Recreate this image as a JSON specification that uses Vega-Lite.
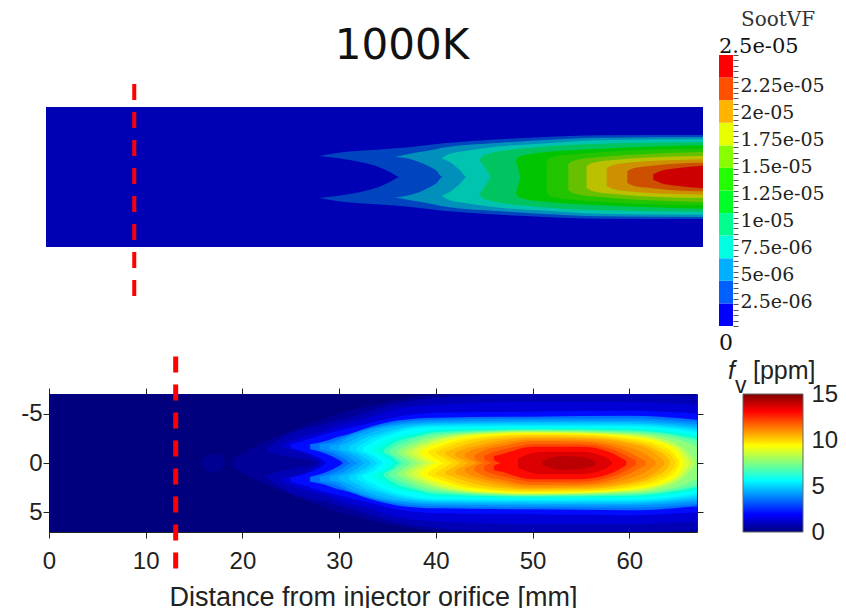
{
"$schema":"https://vega.github.io/schema/vega-lite/v6.json",
"padding":{"left":20,"top":10,"right":0,"bottom":0},
"background":"white",
"bounds":"flush",
"align":"none",
"columns":2,
"spacing":{"row":68,"column":16},
"resolve":{"scale":{"color":"independent"}},
"config":{"view":{"stroke":null},"axis":{"grid":false}},
"datasets":{
"top":[
{"l":0,"x":0,"a":7,"b":0},{"l":0,"x":67,"a":7,"b":0},
{"l":1,"x":27.84,"a":2.1,"b":2.1},{"l":1,"x":29.64,"a":2.4,"b":1.9},{"l":1,"x":31.68,"a":2.6,"b":1.57},{"l":1,"x":33.72,"a":2.73,"b":1.07},{"l":1,"x":35.08,"a":2.83,"b":0.5},{"l":1,"x":36.1,"a":2.9,"b":0},{"l":1,"x":40.52,"a":3.37,"b":0},{"l":1,"x":46.29,"a":3.77,"b":0},{"l":1,"x":50.37,"a":3.97,"b":0},{"l":1,"x":56.49,"a":4.17,"b":0},{"l":1,"x":67,"a":4.2,"b":0},
{"l":2,"x":35.59,"a":2.03,"b":2.03},{"l":2,"x":37.12,"a":2.33,"b":1.8},{"l":2,"x":38.82,"a":2.6,"b":1.17},{"l":2,"x":39.84,"a":2.8,"b":0.6},{"l":2,"x":40.45,"a":2.93,"b":0},{"l":2,"x":46.29,"a":3.43,"b":0},{"l":2,"x":50.37,"a":3.67,"b":0},{"l":2,"x":56.49,"a":3.93,"b":0},{"l":2,"x":67,"a":4,"b":0},
{"l":3,"x":40.35,"a":1.87,"b":1.87},{"l":3,"x":41.03,"a":2.27,"b":1.57},{"l":3,"x":42.22,"a":2.53,"b":0.67},{"l":3,"x":42.9,"a":2.63,"b":0},{"l":3,"x":46.29,"a":3.07,"b":0},{"l":3,"x":50.37,"a":3.33,"b":0},{"l":3,"x":56.49,"a":3.67,"b":0},{"l":3,"x":67,"a":3.77,"b":0},
{"l":4,"x":44.15,"a":1.7,"b":1.7},{"l":4,"x":44.59,"a":2.13,"b":1.2},{"l":4,"x":45.1,"a":2.33,"b":0.4},{"l":4,"x":45.38,"a":2.4,"b":0},{"l":4,"x":50.37,"a":3,"b":0},{"l":4,"x":56.49,"a":3.33,"b":0},{"l":4,"x":67,"a":3.47,"b":0},
{"l":5,"x":47.93,"a":1.6,"b":1.6},{"l":5,"x":48.16,"a":2,"b":0.83},{"l":5,"x":48.44,"a":2.1,"b":0},{"l":5,"x":50.37,"a":2.43,"b":0},{"l":5,"x":56.49,"a":2.83,"b":0},{"l":5,"x":67,"a":3.17,"b":0},
{"l":6,"x":51.05,"a":1.5,"b":0},{"l":6,"x":51.56,"a":2,"b":0},{"l":6,"x":56.49,"a":2.47,"b":0},{"l":6,"x":61.59,"a":2.73,"b":0},{"l":6,"x":67,"a":2.83,"b":0},
{"l":7,"x":53.26,"a":1.33,"b":0},{"l":7,"x":54.11,"a":1.73,"b":0},{"l":7,"x":56.49,"a":2,"b":0},{"l":7,"x":61.59,"a":2.33,"b":0},{"l":7,"x":67,"a":2.5,"b":0},
{"l":8,"x":55.13,"a":1.1,"b":0},{"l":8,"x":55.81,"a":1.43,"b":0},{"l":8,"x":58.19,"a":1.73,"b":0},{"l":8,"x":62.61,"a":2,"b":0},{"l":8,"x":67,"a":2.1,"b":0},
{"l":9,"x":57.17,"a":0.9,"b":0},{"l":9,"x":57.85,"a":1.2,"b":0},{"l":9,"x":59.89,"a":1.47,"b":0},{"l":9,"x":63.29,"a":1.67,"b":0},{"l":9,"x":67,"a":1.77,"b":0},
{"l":10,"x":59.28,"a":0.6,"b":0},{"l":10,"x":59.89,"a":0.87,"b":0},{"l":10,"x":61.59,"a":1.1,"b":0},{"l":10,"x":63.97,"a":1.33,"b":0},{"l":10,"x":67,"a":1.43,"b":0},
{"l":11,"x":61.93,"a":0.27,"b":0},{"l":11,"x":62.61,"a":0.57,"b":0},{"l":11,"x":64.31,"a":0.87,"b":0},{"l":11,"x":67,"a":1.13,"b":0}
],
"topbar":[
{"l":0,"lo":0,"hi":2.083e-6},{"l":1,"lo":2.083e-6,"hi":4.167e-6},{"l":2,"lo":4.167e-6,"hi":6.25e-6},{"l":3,"lo":6.25e-6,"hi":8.333e-6},{"l":4,"lo":8.333e-6,"hi":1.0417e-5},{"l":5,"lo":1.0417e-5,"hi":1.25e-5},{"l":6,"lo":1.25e-5,"hi":1.4583e-5},{"l":7,"lo":1.4583e-5,"hi":1.6667e-5},{"l":8,"lo":1.6667e-5,"hi":1.875e-5},{"l":9,"lo":1.875e-5,"hi":2.0833e-5},{"l":10,"lo":2.0833e-5,"hi":2.2917e-5},{"l":11,"lo":2.2917e-5,"hi":2.5e-5}
],
"bot":[
{"l":0,"x":0,"a":7,"b":0},{"l":0,"x":67,"a":7,"b":0},
{"l":0.3,"x":15.7,"a":0.1,"b":0},{"l":0.3,"x":16.5,"a":0.9,"b":0},{"l":0.3,"x":17.5,"a":0.9,"b":0},{"l":0.3,"x":18.3,"a":0.1,"b":0},
{"l":0.4,"x":19,"a":0.5,"b":0},{"l":0.4,"x":22,"a":2,"b":0},{"l":0.4,"x":26,"a":3.6,"b":0},{"l":0.4,"x":30,"a":5,"b":0},{"l":0.4,"x":35,"a":6.2,"b":0},{"l":0.4,"x":40,"a":6.9,"b":0},{"l":0.4,"x":43,"a":7,"b":0},{"l":0.4,"x":67,"a":7,"b":0},
{"l":0.8,"x":22.5,"a":1.5,"b":1.2},{"l":0.8,"x":25,"a":3,"b":0.6},{"l":0.8,"x":27,"a":3.6,"b":0.3},{"l":0.8,"x":28,"a":3.8,"b":0},{"l":0.8,"x":30,"a":4.3,"b":0},{"l":0.8,"x":35,"a":5.8,"b":0},{"l":0.8,"x":40,"a":6.6,"b":0},{"l":0.8,"x":45,"a":6.9,"b":0},{"l":0.8,"x":50,"a":7,"b":0},{"l":0.8,"x":60,"a":7,"b":0},{"l":0.8,"x":67,"a":6.8,"b":0},
{"l":1.3,"x":24,"a":1.8,"b":1.6},{"l":1.3,"x":26,"a":2.6,"b":1.1},{"l":1.3,"x":27.5,"a":3,"b":0.5},{"l":1.3,"x":28.3,"a":3.2,"b":0},{"l":1.3,"x":30,"a":3.8,"b":0},{"l":1.3,"x":33,"a":4.6,"b":0},{"l":1.3,"x":36,"a":5.5,"b":0},{"l":1.3,"x":40,"a":5.9,"b":0},{"l":1.3,"x":50,"a":6.2,"b":0},{"l":1.3,"x":60,"a":6.2,"b":0},{"l":1.3,"x":67,"a":5.9,"b":0},
{"l":1.9,"x":25,"a":1.9,"b":1.5},{"l":1.9,"x":26.5,"a":2.3,"b":1.1},{"l":1.9,"x":28,"a":2.8,"b":0.5},{"l":1.9,"x":28.8,"a":3,"b":0},{"l":1.9,"x":30,"a":3.3,"b":0},{"l":1.9,"x":33,"a":4,"b":0},{"l":1.9,"x":36,"a":4.7,"b":0},{"l":1.9,"x":40,"a":5.1,"b":0},{"l":1.9,"x":50,"a":5.2,"b":0},{"l":1.9,"x":60,"a":5.3,"b":0},{"l":1.9,"x":67,"a":5,"b":0},
{"l":2.8,"x":27,"a":1.9,"b":1.4},{"l":2.8,"x":28.5,"a":2.2,"b":1},{"l":2.8,"x":30,"a":2.7,"b":0.3},{"l":2.8,"x":30.5,"a":2.8,"b":0},{"l":2.8,"x":33,"a":3.6,"b":0},{"l":2.8,"x":36,"a":4.3,"b":0},{"l":2.8,"x":40,"a":4.6,"b":0},{"l":2.8,"x":50,"a":4.7,"b":0},{"l":2.8,"x":60,"a":4.8,"b":0},{"l":2.8,"x":67,"a":4.4,"b":0},
{"l":3.3,"x":28,"a":1.9,"b":1.4},{"l":3.3,"x":29.3,"a":2.1,"b":1.05},{"l":3.3,"x":30.5,"a":2.6,"b":0.45},{"l":3.3,"x":31.2,"a":2.9,"b":0},{"l":3.3,"x":33.5,"a":3.6,"b":0},{"l":3.3,"x":36,"a":4.1,"b":0},{"l":3.3,"x":40,"a":4.4,"b":0},{"l":3.3,"x":50,"a":4.5,"b":0},{"l":3.3,"x":60,"a":4.55,"b":0},{"l":3.3,"x":67,"a":4.15,"b":0},
{"l":3.75,"x":29,"a":1.8,"b":1.4},{"l":3.75,"x":30,"a":2,"b":1.1},{"l":3.75,"x":31,"a":2.6,"b":0.6},{"l":3.75,"x":32,"a":3,"b":0},{"l":3.75,"x":34,"a":3.6,"b":0},{"l":3.75,"x":36,"a":3.9,"b":0},{"l":3.75,"x":40,"a":4.2,"b":0},{"l":3.75,"x":50,"a":4.3,"b":0},{"l":3.75,"x":60,"a":4.3,"b":0},{"l":3.75,"x":67,"a":3.9,"b":0},
{"l":4.2,"x":30,"a":1.75,"b":1.35},{"l":4.2,"x":31,"a":2.1,"b":1},{"l":4.2,"x":32,"a":2.65,"b":0.45},{"l":4.2,"x":32.7,"a":2.9,"b":0},{"l":4.2,"x":35,"a":3.6,"b":0},{"l":4.2,"x":40,"a":4.05,"b":0},{"l":4.2,"x":50,"a":4.15,"b":0},{"l":4.2,"x":60,"a":4.15,"b":0},{"l":4.2,"x":67,"a":3.7,"b":0},
{"l":4.7,"x":31,"a":1.7,"b":1.3},{"l":4.7,"x":32,"a":2.2,"b":0.9},{"l":4.7,"x":33,"a":2.7,"b":0.3},{"l":4.7,"x":33.4,"a":2.8,"b":0},{"l":4.7,"x":36,"a":3.5,"b":0},{"l":4.7,"x":40,"a":3.9,"b":0},{"l":4.7,"x":50,"a":4,"b":0},{"l":4.7,"x":60,"a":4,"b":0},{"l":4.7,"x":67,"a":3.5,"b":0},
{"l":5.15,"x":31.8,"a":1.65,"b":1.25},{"l":5.15,"x":32.8,"a":2.15,"b":0.85},{"l":5.15,"x":33.7,"a":2.6,"b":0.25},{"l":5.15,"x":34,"a":2.7,"b":0},{"l":5.15,"x":36,"a":3.3,"b":0},{"l":5.15,"x":40,"a":3.8,"b":0},{"l":5.15,"x":50,"a":3.85,"b":0},{"l":5.15,"x":60,"a":3.85,"b":0},{"l":5.15,"x":65,"a":3.55,"b":0},{"l":5.15,"x":67,"a":3.3,"b":0},
{"l":5.6,"x":32.5,"a":1.6,"b":1.2},{"l":5.6,"x":33.5,"a":2.1,"b":0.8},{"l":5.6,"x":34.3,"a":2.5,"b":0.2},{"l":5.6,"x":34.6,"a":2.6,"b":0},{"l":5.6,"x":36,"a":3.1,"b":0},{"l":5.6,"x":40,"a":3.65,"b":0},{"l":5.6,"x":50,"a":3.7,"b":0},{"l":5.6,"x":60,"a":3.7,"b":0},{"l":5.6,"x":65,"a":3.4,"b":0},{"l":5.6,"x":67,"a":3.1,"b":0},
{"l":6.1,"x":33.2,"a":1.5,"b":1.15},{"l":6.1,"x":34.2,"a":2.05,"b":0.7},{"l":6.1,"x":35.2,"a":2.5,"b":0},{"l":6.1,"x":38,"a":3.1,"b":0},{"l":6.1,"x":40,"a":3.45,"b":0},{"l":6.1,"x":50,"a":3.6,"b":0},{"l":6.1,"x":60,"a":3.57,"b":0},{"l":6.1,"x":65,"a":3.2,"b":0},{"l":6.1,"x":67,"a":2.9,"b":0},
{"l":6.6,"x":34,"a":1.4,"b":1.1},{"l":6.6,"x":35,"a":2,"b":0.6},{"l":6.6,"x":35.8,"a":2.4,"b":0},{"l":6.6,"x":38,"a":2.95,"b":0},{"l":6.6,"x":40,"a":3.3,"b":0},{"l":6.6,"x":50,"a":3.5,"b":0},{"l":6.6,"x":60,"a":3.45,"b":0},{"l":6.6,"x":65,"a":3,"b":0},{"l":6.6,"x":67,"a":2.7,"b":0},
{"l":7.05,"x":34.6,"a":1.35,"b":1.05},{"l":7.05,"x":35.5,"a":1.95,"b":0.55},{"l":7.05,"x":36.3,"a":2.3,"b":0},{"l":7.05,"x":38,"a":2.75,"b":0},{"l":7.05,"x":40,"a":3.15,"b":0},{"l":7.05,"x":50,"a":3.42,"b":0},{"l":7.05,"x":60,"a":3.32,"b":0},{"l":7.05,"x":65,"a":2.85,"b":0},{"l":7.05,"x":67,"a":2.45,"b":0},
{"l":7.5,"x":35.2,"a":1.3,"b":1},{"l":7.5,"x":36,"a":1.8,"b":0.5},{"l":7.5,"x":36.8,"a":2.1,"b":0},{"l":7.5,"x":38,"a":2.55,"b":0},{"l":7.5,"x":40,"a":2.95,"b":0},{"l":7.5,"x":50,"a":3.35,"b":0},{"l":7.5,"x":60,"a":3.2,"b":0},{"l":7.5,"x":65,"a":2.7,"b":0},{"l":7.5,"x":67,"a":2.2,"b":0},
{"l":8,"x":36,"a":1.25,"b":0.95},{"l":8,"x":36.8,"a":1.7,"b":0.5},{"l":8,"x":37.6,"a":2.05,"b":0},{"l":8,"x":40,"a":2.75,"b":0},{"l":8,"x":45,"a":3.15,"b":0},{"l":8,"x":50,"a":3.28,"b":0},{"l":8,"x":60,"a":3.08,"b":0},{"l":8,"x":65,"a":2.4,"b":0},{"l":8,"x":67,"a":1.6,"b":0},
{"l":8.5,"x":36.8,"a":1.2,"b":0.9},{"l":8.5,"x":37.5,"a":1.6,"b":0.5},{"l":8.5,"x":38.5,"a":2,"b":0},{"l":8.5,"x":40,"a":2.45,"b":0},{"l":8.5,"x":45,"a":3.05,"b":0},{"l":8.5,"x":50,"a":3.2,"b":0},{"l":8.5,"x":60,"a":2.95,"b":0},{"l":8.5,"x":64,"a":2.3,"b":0},{"l":8.5,"x":66,"a":1.1,"b":0},{"l":8.5,"x":66.8,"a":0.2,"b":0},
{"l":8.95,"x":37.6,"a":1.2,"b":0.9},{"l":8.95,"x":38.2,"a":1.6,"b":0.5},{"l":8.95,"x":39.3,"a":2,"b":0},{"l":8.95,"x":41,"a":2.55,"b":0},{"l":8.95,"x":45,"a":3,"b":0},{"l":8.95,"x":50,"a":3.12,"b":0},{"l":8.95,"x":60,"a":2.83,"b":0},{"l":8.95,"x":64,"a":2,"b":0},{"l":8.95,"x":65.5,"a":1.15,"b":0},{"l":8.95,"x":66.2,"a":0.2,"b":0},
{"l":9.4,"x":38.4,"a":1.2,"b":0.9},{"l":9.4,"x":39,"a":1.55,"b":0.5},{"l":9.4,"x":40.2,"a":1.95,"b":0},{"l":9.4,"x":42,"a":2.45,"b":0},{"l":9.4,"x":45,"a":2.9,"b":0},{"l":9.4,"x":50,"a":3.05,"b":0},{"l":9.4,"x":55,"a":3,"b":0},{"l":9.4,"x":60,"a":2.7,"b":0},{"l":9.4,"x":63,"a":2.2,"b":0},{"l":9.4,"x":65,"a":1.2,"b":0},{"l":9.4,"x":65.6,"a":0.2,"b":0},
{"l":9.85,"x":39.2,"a":1.25,"b":0.95},{"l":9.85,"x":40,"a":1.55,"b":0.45},{"l":9.85,"x":41,"a":1.9,"b":0},{"l":9.85,"x":43,"a":2.45,"b":0},{"l":9.85,"x":50,"a":2.95,"b":0},{"l":9.85,"x":55,"a":2.9,"b":0},{"l":9.85,"x":60,"a":2.52,"b":0},{"l":9.85,"x":63,"a":1.87,"b":0},{"l":9.85,"x":64.7,"a":0.9,"b":0},{"l":9.85,"x":65.2,"a":0.15,"b":0},
{"l":10.3,"x":40,"a":1.2,"b":1},{"l":10.3,"x":41,"a":1.55,"b":0.4},{"l":10.3,"x":41.8,"a":1.85,"b":0},{"l":10.3,"x":44,"a":2.4,"b":0},{"l":10.3,"x":50,"a":2.85,"b":0},{"l":10.3,"x":55,"a":2.8,"b":0},{"l":10.3,"x":60,"a":2.35,"b":0},{"l":10.3,"x":63,"a":1.55,"b":0},{"l":10.3,"x":64.4,"a":0.7,"b":0},{"l":10.3,"x":64.8,"a":0.1,"b":0},
{"l":10.8,"x":41,"a":1.15,"b":0.85},{"l":10.8,"x":42,"a":1.5,"b":0.3},{"l":10.8,"x":42.6,"a":1.7,"b":0},{"l":10.8,"x":45,"a":2.3,"b":0},{"l":10.8,"x":50,"a":2.7,"b":0},{"l":10.8,"x":55,"a":2.65,"b":0},{"l":10.8,"x":60,"a":2.15,"b":0},{"l":10.8,"x":62.7,"a":1.35,"b":0},{"l":10.8,"x":64,"a":0.45,"b":0},{"l":10.8,"x":64.2,"a":0.15,"b":0},
{"l":11.25,"x":42,"a":1.05,"b":0.7},{"l":11.25,"x":43,"a":1.45,"b":0.2},{"l":11.25,"x":43.4,"a":1.55,"b":0},{"l":11.25,"x":46,"a":2.15,"b":0},{"l":11.25,"x":50,"a":2.55,"b":0},{"l":11.25,"x":55,"a":2.5,"b":0},{"l":11.25,"x":60,"a":1.95,"b":0},{"l":11.25,"x":62.5,"a":1.1,"b":0},{"l":11.25,"x":63.6,"a":0.2,"b":0},
{"l":11.7,"x":43,"a":0.95,"b":0.55},{"l":11.7,"x":44,"a":1.4,"b":0.1},{"l":11.7,"x":44.2,"a":1.45,"b":0},{"l":11.7,"x":46.5,"a":1.95,"b":0},{"l":11.7,"x":50,"a":2.38,"b":0},{"l":11.7,"x":55,"a":2.33,"b":0},{"l":11.7,"x":59.5,"a":1.72,"b":0},{"l":11.7,"x":62,"a":0.7,"b":0},{"l":11.7,"x":62.7,"a":0.2,"b":0},
{"l":12.2,"x":44,"a":0.8,"b":0.4},{"l":12.2,"x":45,"a":1.3,"b":0},{"l":12.2,"x":47,"a":1.75,"b":0},{"l":12.2,"x":50,"a":2.2,"b":0},{"l":12.2,"x":55,"a":2.15,"b":0},{"l":12.2,"x":59,"a":1.5,"b":0},{"l":12.2,"x":61.7,"a":0.2,"b":0},
{"l":12.65,"x":45,"a":0.75,"b":0.35},{"l":12.65,"x":45.9,"a":1.1,"b":0},{"l":12.65,"x":48,"a":1.6,"b":0},{"l":12.65,"x":50,"a":1.93,"b":0},{"l":12.65,"x":55,"a":1.9,"b":0},{"l":12.65,"x":58.5,"a":1.3,"b":0},{"l":12.65,"x":60.7,"a":0.2,"b":0},
{"l":13.1,"x":46,"a":0.7,"b":0.3},{"l":13.1,"x":46.8,"a":0.9,"b":0},{"l":13.1,"x":50,"a":1.65,"b":0},{"l":13.1,"x":55,"a":1.65,"b":0},{"l":13.1,"x":58,"a":1.1,"b":0},{"l":13.1,"x":59.7,"a":0.2,"b":0},
{"l":13.6,"x":48.5,"a":0.5,"b":0},{"l":13.6,"x":51,"a":1.15,"b":0},{"l":13.6,"x":55,"a":1.15,"b":0},{"l":13.6,"x":57.5,"a":0.6,"b":0},{"l":13.6,"x":58.2,"a":0.1,"b":0},
{"l":14.1,"x":51,"a":0.2,"b":0},{"l":14.1,"x":53,"a":0.7,"b":0},{"l":14.1,"x":55,"a":0.6,"b":0},{"l":14.1,"x":56.5,"a":0.2,"b":0}
]
},
"concat":[
{"width":654,"height":271,
"title":{"text":"1000K","font":"DejaVu Sans","fontSize":42,"fontWeight":"normal","color":"#111","anchor":"middle","dx":26,"offset":-13},
"layer":[
{"data":{"name":"top"},"mark":{"type":"area","interpolate":"monotone"},
"encoding":{"x":{"field":"x","type":"quantitative","scale":{"domain":[0,67],"range":[-3,654]},"axis":null},
"y":{"field":"a","type":"quantitative","scale":{"domain":[7,-7],"range":[52,192]},"axis":null},
"y2":{"field":"b"},
"color":{"field":"l","type":"nominal","legend":null,"scale":{"domain":[0,1,2,3,4,5,6,7,8,9,10,11],"range":["#0000b4","#0044c0","#0090bb","#00c4b0","#00c45f","#00c400","#22c400","#66c000","#bbc000","#cc9000","#cc5000","#cc0000"]}}}},
{"data":{"name":"top"},"mark":{"type":"area","interpolate":"monotone"},
"encoding":{"x":{"field":"x","type":"quantitative","scale":{"domain":[0,67],"range":[-3,654]},"axis":null},
"y":{"field":"a","type":"quantitative","scale":{"domain":[-7,7],"range":[52,192]},"axis":null},
"y2":{"field":"b"},
"color":{"field":"l","type":"nominal","legend":null,"scale":{"domain":[0,1,2,3,4,5,6,7,8,9,10,11],"range":["#0000b4","#0044c0","#0090bb","#00c4b0","#00c45f","#00c400","#22c400","#66c000","#bbc000","#cc9000","#cc5000","#cc0000"]}}}},
{"data":{"values":[{"x":9,"y0":-9.3,"y1":11.9}]},"mark":{"type":"rule","color":"#ff0000","strokeWidth":4,"strokeDash":[16,12]},
"encoding":{"x":{"field":"x","type":"quantitative","scale":{"domain":[0,67],"range":[-3,654]},"axis":null},
"y":{"field":"y0","type":"quantitative","scale":{"domain":[-7,7],"range":[52,192]},"axis":null},
"y2":{"field":"y1"}}}
],
"resolve":{"scale":{"y":"independent"}}},
{"width":14,"height":271,
"resolve":{"scale":{"y":"independent"}},
"layer":[
{"data":{"name":"topbar"},"mark":{"type":"rect"},
"encoding":{"x":{"datum":0,"type":"quantitative","scale":{"domain":[0,1]},"axis":null},"x2":{"datum":1},
"y":{"field":"lo","type":"quantitative","scale":{"domain":[0,2.5e-5]},
"axis":{"title":null,"domain":false,"orient":"right","values":[0,5e-7,1e-6,1.5e-6,2e-6,2.5e-6,3e-6,3.5e-6,4e-6,4.5e-6,5e-6,5.5e-6,6e-6,6.5e-6,7e-6,7.5e-6,8e-6,8.5e-6,9e-6,9.5e-6,1e-5,1.05e-5,1.1e-5,1.15e-5,1.2e-5,1.25e-5,1.3e-5,1.35e-5,1.4e-5,1.45e-5,1.5e-5,1.55e-5,1.6e-5,1.65e-5,1.7e-5,1.75e-5,1.8e-5,1.85e-5,1.9e-5,1.95e-5,2e-5,2.05e-5,2.1e-5,2.15e-5,2.2e-5,2.25e-5,2.3e-5,2.35e-5,2.4e-5,2.45e-5,2.5e-5],
"labelExpr":"abs(datum.value/2.5e-6-round(datum.value/2.5e-6))<0.01 && datum.value>1e-7 && datum.value<2.4e-5 ? replace(format(datum.value,'.3~e'),'e-','e-0') : ''",
"labelFont":"DejaVu Serif","labelFontSize":19,"labelColor":"#222","labelPadding":2,"labelOffset":3,"labelOverlap":false,"labelFlush":false,"labelBound":false,
"tickColor":"#555","tickSize":5,"tickWidth":1}},
"y2":{"field":"hi"},
"color":{"field":"l","type":"nominal","legend":null,"scale":{"domain":[0,1,2,3,4,5,6,7,8,9,10,11],"range":["#0000ff","#0060ff","#00b0ff","#00ffe0","#00ff90","#00ff28","#22ff00","#88ff00","#e8ff00","#ffb400","#ff5000","#ff0000"]}}}},
{"data":{"values":[{"t":"2.5e-05","v":2.5e-5}]},"mark":{"type":"text","font":"DejaVu Serif","fontSize":21,"align":"left","dy":-8,"color":"#111"},
"encoding":{"x":{"datum":0,"type":"quantitative"},"y":{"field":"v","type":"quantitative","scale":{"domain":[0,2.5e-5]},"axis":null},"text":{"field":"t"}}},
{"data":{"values":[{"t":"0","v":0}]},"mark":{"type":"text","font":"DejaVu Serif","fontSize":22,"align":"center","dy":17,"color":"#111"},
"encoding":{"x":{"datum":0.5,"type":"quantitative"},"y":{"field":"v","type":"quantitative","scale":{"domain":[0,2.5e-5]},"axis":null},"text":{"field":"t"}}},
{"data":{"values":[{"t":"SootVF","v":2.5e-5}]},"mark":{"type":"text","font":"DejaVu Serif","fontSize":20,"align":"left","dx":22,"dy":-35,"color":"#333"},
"encoding":{"x":{"datum":0,"type":"quantitative"},"y":{"field":"v","type":"quantitative","scale":{"domain":[0,2.5e-5]},"axis":null},"text":{"field":"t"}}}
]},
{"width":648,"height":138,
"layer":[
{"data":{"name":"bot"},"mark":{"type":"area","interpolate":"monotone"},
"encoding":{"x":{"field":"x","type":"quantitative","scale":{"domain":[0,67]},
"axis":{"orient":"top","values":[0,10,20,30,40,50,60],"labels":false,"title":null,"domainColor":"#222","tickColor":"#222","tickSize":6}},
"y":{"field":"a","type":"quantitative","scale":{"domain":[-7,7]},
"axis":{"orient":"right","values":[-5,0,5],"labels":false,"title":null,"domainColor":"#222","tickColor":"#222","tickSize":6}},
"y2":{"field":"b"},"detail":{"field":"l"},
"color":{"field":"l","type":"quantitative","legend":null,"scale":{"domain":[0,1.875,5.625,9.375,13.125,15],"range":["#00007f","#0000ff","#00ffff","#ffff00","#ff0000","#7f0000"]}}}},
{"data":{"name":"bot"},"mark":{"type":"area","interpolate":"monotone"},
"encoding":{"x":{"field":"x","type":"quantitative","scale":{"domain":[0,67]},
"axis":{"orient":"bottom","values":[0,10,20,30,40,50,60],"format":"d","title":"Distance from injector orifice [mm]","labelFont":"Liberation Sans","labelFontSize":24,"labelColor":"#222","labelPadding":11,"labelFlush":false,"titleFont":"Liberation Sans","titleFontSize":27,"titleFontWeight":"normal","titleColor":"#222","titlePadding":11,"domainColor":"#222","tickColor":"#222","tickSize":6}},
"y":{"field":"a","type":"quantitative","scale":{"domain":[7,-7]},
"axis":{"orient":"left","values":[-5,0,5],"title":null,"labelExpr":"datum.value==-5?'-5':datum.label","labelFont":"Liberation Sans","labelFontSize":24,"labelColor":"#222","labelPadding":1,"domainColor":"#222","tickColor":"#222","tickSize":6}},
"y2":{"field":"b"},"detail":{"field":"l"},
"color":{"field":"l","type":"quantitative","legend":null,"scale":{"domain":[0,1.875,5.625,9.375,13.125,15],"range":["#00007f","#0000ff","#00ffff","#ffff00","#ff0000","#7f0000"]}}}},
{"data":{"values":[{"x":13.1,"y0":-10.8,"y1":10.8}]},"mark":{"type":"rule","color":"#ff0000","strokeWidth":5,"strokeDash":[16,12]},
"encoding":{"x":{"field":"x","type":"quantitative","scale":{"domain":[0,67]},"axis":null},
"y":{"field":"y0","type":"quantitative","scale":{"domain":[7,-7]},"axis":null},
"y2":{"field":"y1"}}}
],
"resolve":{"scale":{"y":"independent"},"axis":{"x":"independent","y":"independent"}}},
{"width":84,"height":138,
"resolve":{"scale":{"y":"independent"}},
"layer":[
{"data":{"values":[{"lo":0,"hi":15}]},
"mark":{"type":"rect","stroke":"#666","strokeWidth":1,"fill":{"gradient":"linear","x1":0,"y1":1,"x2":0,"y2":0,"stops":[{"offset":0,"color":"#00007f"},{"offset":0.125,"color":"#0000ff"},{"offset":0.375,"color":"#00ffff"},{"offset":0.625,"color":"#ffff00"},{"offset":0.875,"color":"#ff0000"},{"offset":1,"color":"#7f0000"}]}},
"encoding":{"x":{"datum":0,"type":"quantitative","scale":{"domain":[0,1],"range":[24,84]},"axis":null},"x2":{"datum":1},
"y":{"field":"lo","type":"quantitative","scale":{"domain":[0,15]},
"axis":{"orient":"right","title":null,"values":[0,5,10,15],"domain":false,"ticks":false,"labelFont":"Liberation Sans","labelFontSize":24,"labelColor":"#222","labelPadding":8,"labelFlush":false,"labelBound":false}},
"y2":{"field":"hi"}}},
{"data":{"values":[{"t":"[ppm]","v":15}]},"mark":{"type":"text","font":"Liberation Sans","fontSize":25,"align":"left","dx":10,"dy":-15,"baseline":"alphabetic","color":"#222"},
"encoding":{"x":{"datum":0,"type":"quantitative"},"y":{"field":"v","type":"quantitative","scale":{"domain":[0,15]},"axis":null},"text":{"field":"t"}}},
{"data":{"values":[{"t":"f","v":15}]},"mark":{"type":"text","font":"Liberation Sans","fontStyle":"italic","fontSize":25,"align":"left","dx":-15,"dy":-15,"baseline":"alphabetic","color":"#222"},
"encoding":{"x":{"datum":0,"type":"quantitative"},"y":{"field":"v","type":"quantitative","scale":{"domain":[0,15]},"axis":null},"text":{"field":"t"}}},
{"data":{"values":[{"t":"v","v":15}]},"mark":{"type":"text","font":"Liberation Sans","fontSize":23,"align":"left","dx":-8,"dy":-1,"baseline":"alphabetic","color":"#222"},
"encoding":{"x":{"datum":0,"type":"quantitative"},"y":{"field":"v","type":"quantitative","scale":{"domain":[0,15]},"axis":null},"text":{"field":"t"}}}
]}
]
}
